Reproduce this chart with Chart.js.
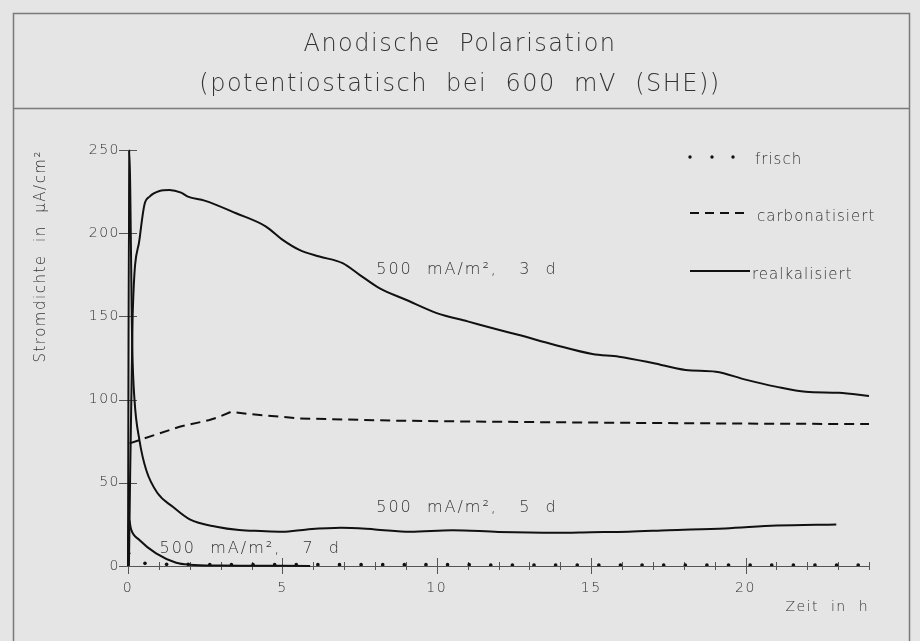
<!DOCTYPE html>
<html>
<head>
<meta charset="utf-8">
<script src="https://cdn.jsdelivr.net/npm/chart.js@4.4.0/dist/chart.umd.min.js"></script>
<style>
  html, body { margin: 0; padding: 0; background: #e5e5e5; }
  #wrap { width: 920px; height: 641px; position: relative; }
</style>
</head>
<body>
<div id="wrap"><canvas id="chart"></canvas></div>
<script>
// Zeit in h (x), Stromdichte in µA/cm² (y)
var timeFrisch = [0.02, 0.55, 1.25, 1.95, 2.65, 3.35, 4.05, 4.75, 5.45, 6.15, 6.85, 7.55, 8.25, 8.95, 9.65, 10.35, 11.05, 11.75,
                  12.45, 13.15, 13.85, 14.55, 15.25, 15.95, 16.65, 17.35, 18.05, 18.75, 19.45, 20.15, 20.85, 21.55, 22.25, 22.95, 23.65];
var valFrisch  = [7.6, 1.6, 1.0, 1.0, 0.8, 0.8, 0.8, 0.8, 0.8, 0.8, 0.8, 0.8, 0.8, 0.8, 0.8, 0.8, 0.8, 0.6,
                  0.6, 0.6, 0.6, 0.6, 0.6, 0.6, 0.6, 0.6, 0.6, 0.6, 0.6, 0.6, 0.6, 0.6, 0.6, 0.6, 0.6];

var timeCarb = [0.05, 1.02, 1.67, 2.64, 2.96, 3.34, 3.93, 5.55, 8.79, 11.8, 15, 18, 21, 24];
var valCarb  = [73.7, 79.7, 83.7, 87.7, 89.7, 92.7, 91.3, 88.7, 87.3, 86.7, 86.2, 85.8, 85.5, 85.3];

var time3d = [0.03, 0.15, 0.37, 0.53, 0.70, 1.02, 1.34, 1.72, 1.94, 2.48, 3.5, 4.47, 5.01, 5.55, 6.2, 6.95, 7.5, 8.14,
              9.0, 10.0, 11.0, 12.0, 12.67, 13.8, 15.04, 15.9, 17.0, 18.06, 19.04, 20.0, 20.98, 21.95, 23.02, 24.0];
var val3d  = [0, 150, 196, 217, 222, 225.4, 226, 224.4, 222, 219.6, 212, 204, 196, 190, 186, 182, 175, 167,
              160, 152, 147, 142, 138.8, 133, 127.4, 125.8, 122, 117.8, 116.8, 112, 107.8, 104.7, 104.1, 102.2];

var time5d = [0, 0.04, 0.14, 0.21, 0.37, 0.59, 0.96, 1.45, 2.0, 2.86, 3.6, 4.3, 5.0, 5.8, 6.9, 8.0, 9.14, 10.5, 12.0,
              13.85, 15.0, 16.2, 17.5, 19.34, 21.0, 22.94];
var val5d  = [0, 250, 130, 100, 75.7, 57.7, 43.7, 35.6, 28, 23.6, 21.6, 21, 20.6, 22, 23, 22, 20.6, 21.5, 20.5,
              20, 20.3, 20.6, 21.5, 22.6, 24.3, 25];

var time7d = [0, 0.02, 0.1, 0.37, 0.91, 1.56, 2.0, 3.0, 4.0, 5.0, 5.9];
var val7d  = [0, 29, 22, 15.6, 7.6, 2, 0.8, 0.3, 0.2, 0.1, 0];

var xTickLabels = [0, 5, 10, 15, 20];
var yTickLabels = [0, 50, 100, 150, 200, 250];

var curveTexts = ['500  mA/m²,   3  d', '500  mA/m²,   5  d', '500  mA/m²,   7  d'];
var curveTextX = [8.04, 8.04, 1.02];
var curveTextY = [178, 35, 10.2];

var legendTexts = ['frisch', 'carbonatisiert', 'realkalisiert'];

function pts(xs, ys) {
    return xs.map(function(x, i) { return { x: x, y: ys[i] }; });
}

var FONT = "'DejaVu Sans', sans-serif";
var INK = '#111';
var TXT = '#333';
Chart.defaults.font.family = FONT;
Chart.defaults.font.weight = 200;
Chart.defaults.color = TXT;

// frame + title divider, wide CAD-like lettering for everything drawn after
var framePlugin = {
    id: 'frame',
    beforeDraw: function(chart) {
        var ctx = chart.ctx;
        ctx.save();
        ctx.fillStyle = '#e5e5e5';
        ctx.fillRect(0, 0, chart.width, chart.height);
        ctx.strokeStyle = '#7a7a7a';
        ctx.lineWidth = 1.5;
        ctx.strokeRect(13.5, 13.5, 896, 700);
        ctx.beginPath();
        ctx.moveTo(13.5, 108.5);
        ctx.lineTo(909.5, 108.5);
        ctx.stroke();
        ctx.restore();
        ctx.letterSpacing = '1.5px';
    }
};

// tick marks crossing the axes
var tickPlugin = {
    id: 'crossTicks',
    beforeDatasetsDraw: function(chart) {
        var ctx = chart.ctx, xs = chart.scales.x, ys = chart.scales.y;
        var ca = chart.chartArea;
        ctx.save();
        ctx.strokeStyle = '#555';
        ctx.lineWidth = 1;
        ctx.beginPath();
        xs.ticks.forEach(function(t) {
            var px = Math.round(xs.getPixelForValue(t.value)) + 0.5;
            var len = xTickLabels.indexOf(t.value) >= 0 ? 8 : 4;
            ctx.moveTo(px, ca.bottom - len);
            ctx.lineTo(px, ca.bottom + len);
        });
        yTickLabels.forEach(function(v) {
            var py = Math.round(ys.getPixelForValue(v)) + 0.5;
            ctx.moveTo(ca.left - 9, py);
            ctx.lineTo(ca.left + 9, py);
        });
        ctx.stroke();
        ctx.restore();
    }
};

// curve annotations + legend
var textPlugin = {
    id: 'texts',
    afterDraw: function(chart) {
        var ctx = chart.ctx, xs = chart.scales.x, ys = chart.scales.y;
        var ca = chart.chartArea;
        ctx.save();
        ctx.fillStyle = TXT;
        ctx.letterSpacing = '2px';
        ctx.font = '200 16px ' + FONT;
        ctx.textAlign = 'left';
        ctx.textBaseline = 'middle';
        curveTexts.forEach(function(t, i) {
            ctx.fillText(t, xs.getPixelForValue(curveTextX[i]), ys.getPixelForValue(curveTextY[i]));
        });

        var lx = ca.right - 179;
        ctx.letterSpacing = '1px';
        ctx.font = '200 15px ' + FONT;
        // frisch
        ctx.fillStyle = INK;
        [0, 22, 43].forEach(function(d) {
            ctx.beginPath();
            ctx.arc(lx + d, ca.top + 7, 1.7, 0, Math.PI * 2);
            ctx.fill();
        });
        ctx.fillStyle = TXT;
        ctx.fillText(legendTexts[0], lx + 65, ca.top + 10);
        // carbonatisiert
        ctx.strokeStyle = INK;
        ctx.lineWidth = 2;
        ctx.setLineDash([9, 6]);
        ctx.beginPath();
        ctx.moveTo(lx, ca.top + 63);
        ctx.lineTo(lx + 54, ca.top + 63);
        ctx.stroke();
        ctx.fillText(legendTexts[1], lx + 67, ca.top + 67);
        // realkalisiert
        ctx.setLineDash([]);
        ctx.beginPath();
        ctx.moveTo(lx, ca.top + 121);
        ctx.lineTo(lx + 60, ca.top + 121);
        ctx.stroke();
        ctx.fillText(legendTexts[2], lx + 62, ca.top + 125);
        ctx.restore();
    }
};

var solid = { borderColor: INK, borderWidth: 2, pointRadius: 0, cubicInterpolationMode: 'monotone', fill: false, clip: 6 };

new Chart(document.getElementById('chart'), {
    type: 'line',
    data: {
        datasets: [
            Object.assign({ label: 'realkalisiert 3 d', data: pts(time3d, val3d) }, solid),
            Object.assign({ label: 'realkalisiert 5 d', data: pts(time5d, val5d) }, solid),
            Object.assign({ label: 'realkalisiert 7 d', data: pts(time7d, val7d) }, solid),
            { label: 'carbonatisiert', data: pts(timeCarb, valCarb), borderColor: INK, borderWidth: 2,
              borderDash: [10, 6], pointRadius: 0, tension: 0, fill: false },
            { label: 'frisch', data: pts(timeFrisch, valFrisch), showLine: false, pointRadius: 1.8,
              pointBackgroundColor: INK, pointBorderWidth: 0 }
        ]
    },
    options: {
        responsive: true,
        maintainAspectRatio: false,
        animation: false,
        layout: { padding: 0 },
        plugins: {
            legend: { display: false },
            tooltip: { enabled: false },
            title: {
                display: true,
                text: ['Anodische  Polarisation', '(potentiostatisch  bei  600  mV  (SHE))'],
                color: TXT,
                font: { size: 24, weight: 200, lineHeight: 40 / 24 },
                padding: { top: 25, bottom: 45 }
            }
        },
        scales: {
            x: {
                type: 'linear',
                min: 0, max: 24,
                afterFit: function(s) { s.height = 75; },
                grid: { display: false, drawTicks: false },
                border: { display: true, color: '#555', width: 1 },
                ticks: {
                    stepSize: 1, autoSkip: false, maxRotation: 0, padding: 14,
                    font: { size: 14 }, color: TXT,
                    callback: function(v) { return xTickLabels.indexOf(v) >= 0 ? String(v) : ''; }
                },
                title: { display: true, text: 'Zeit  in  h', align: 'end', color: TXT,
                         font: { size: 14 }, padding: { top: 0, bottom: 25 } }
            },
            y: {
                min: 0, max: 250,
                afterFit: function(s) { s.width = 128; },
                grid: { display: false, drawTicks: false },
                border: { display: true, color: '#555', width: 1 },
                ticks: {
                    stepSize: 50, padding: 8, font: { size: 14 }, color: TXT,
                    callback: function(v) { return yTickLabels.indexOf(v) >= 0 ? String(v) : ''; }
                },
                title: { display: true, text: 'Stromdichte  in  µA/cm²', align: 'end', color: TXT,
                         font: { size: 15 }, padding: { top: 32, bottom: 0 } }
            },
            // empty right-hand box so the title stays centred on the page
            yRight: {
                position: 'right',
                min: 0, max: 250,
                afterFit: function(s) { s.width = 51; },
                grid: { display: false, drawTicks: false },
                border: { display: false },
                ticks: { display: false }
            }
        }
    },
    plugins: [framePlugin, tickPlugin, textPlugin]
});
</script>
</body>
</html>
